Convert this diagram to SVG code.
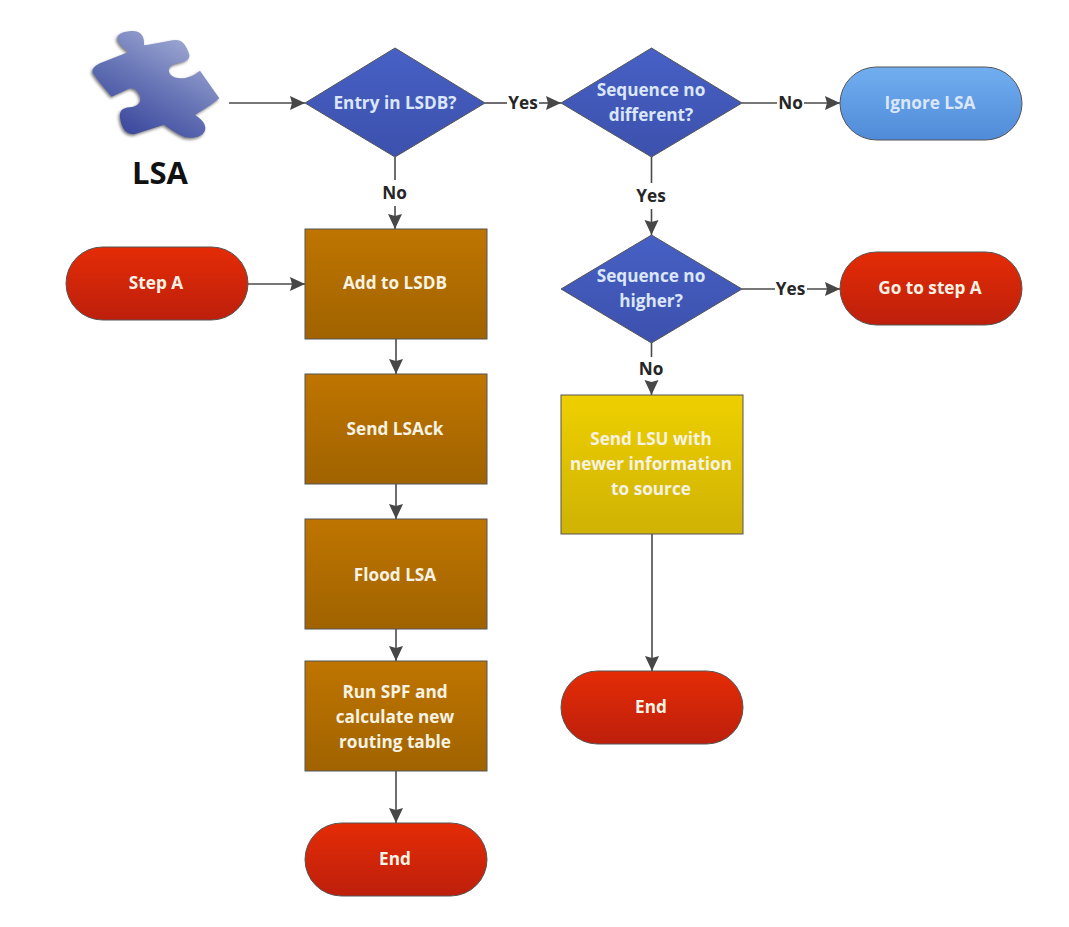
<svg xmlns="http://www.w3.org/2000/svg" width="1069" height="927" viewBox="0 0 1069 927">
<style>
text{font-family:"Open Sans","Noto Sans","Liberation Sans",sans-serif;font-weight:700;font-size:17.2px;text-anchor:middle}
.w{fill:#f6f2e4}.b{fill:#dbe6fa}.l{fill:#262626}
.s{stroke:#555;stroke-width:1}
.c{fill:none;stroke:#4a4a4a;stroke-width:1.600}
</style>
<defs>
<linearGradient id="red" x1="0" y1="0" x2="0" y2="1"><stop offset="0" stop-color="#e42c06"/><stop offset="1" stop-color="#bd1f0c"/></linearGradient>
<linearGradient id="brown" x1="0" y1="0" x2="0" y2="1"><stop offset="0" stop-color="#bf7500"/><stop offset="1" stop-color="#a06300"/></linearGradient>
<linearGradient id="yellow" x1="0" y1="0" x2="0" y2="1"><stop offset="0" stop-color="#eed000"/><stop offset="1" stop-color="#cfb204"/></linearGradient>
<linearGradient id="sky" x1="0" y1="0" x2="0" y2="1"><stop offset="0" stop-color="#71aef0"/><stop offset="1" stop-color="#4f8bd8"/></linearGradient>
<linearGradient id="blue" x1="0" y1="0" x2="0" y2="1"><stop offset="0" stop-color="#4660c4"/><stop offset="1" stop-color="#3d51ad"/></linearGradient>
<linearGradient id="puz" x1="0.85" y1="0.1" x2="0.3" y2="0.95"><stop offset="0" stop-color="#a2abd4"/><stop offset="0.5" stop-color="#6a78b8"/><stop offset="1" stop-color="#3d4a9e"/></linearGradient>
<filter id="sh" x="-10%" y="-10%" width="125%" height="125%"><feGaussianBlur stdDeviation="5"/></filter>
<marker id="a" markerUnits="userSpaceOnUse" markerWidth="16" markerHeight="16" refX="15" refY="8" orient="auto"><path d="M0 1L15 8L0 15L2 8Z" fill="#474747"/></marker>
<path id="pz" d="M146 66C132 44 160 33 188 33C214 33 224 50 222 76C255 72 290 62 318 60C338 60 350 78 358 104C360 120 345 124 322 130C298 136 290 150 302 164C318 180 358 180 390 152L448 235C420 258 395 272 375 285C398 298 412 318 404 334C396 352 368 356 345 352C320 342 300 326 282 314L195 342C172 346 155 330 150 292C148 272 158 264 178 262C202 260 216 248 210 230C204 212 192 204 180 205L125 230C105 205 85 185 68 158C66 146 75 138 90 130L176 96C162 86 152 78 146 66Z"/>
</defs>
<rect width="1069" height="927" fill="#fff"/>
<g id="connectors">
<path class="c" d="M229 103H305" marker-end="url(#a)"/>
<path class="c" d="M485 103H507"/><path class="c" d="M539 103H561" marker-end="url(#a)"/>
<path class="c" d="M742 103H777"/><path class="c" d="M804 103H840" marker-end="url(#a)"/>
<path class="c" d="M395 157V180"/><path class="c" d="M395 206V229" marker-end="url(#a)"/>
<path class="c" d="M651.500 157V183"/><path class="c" d="M651.500 209V235" marker-end="url(#a)"/>
<path class="c" d="M742 289H775"/><path class="c" d="M807 289H840" marker-end="url(#a)"/>
<path class="c" d="M651.500 343V357"/><path class="c" d="M651.500 382V395" marker-end="url(#a)"/>
<path class="c" d="M248 284H305" marker-end="url(#a)"/>
<path class="c" d="M396 339V374" marker-end="url(#a)"/>
<path class="c" d="M396 484V519" marker-end="url(#a)"/>
<path class="c" d="M396 629V661" marker-end="url(#a)"/>
<path class="c" d="M396 771V823" marker-end="url(#a)"/>
<path class="c" d="M652 534V671" marker-end="url(#a)"/>
</g>
<g id="labels">
<text class="l" x="523" y="109">Yes</text>
<text class="l" x="790.500" y="109">No</text>
<text class="l" x="394.500" y="199">No</text>
<text class="l" x="651" y="202">Yes</text>
<text class="l" x="790.500" y="295">Yes</text>
<text class="l" x="651" y="375">No</text>
</g>
<g id="lsa">
<g transform="translate(70 20) scale(.3333)">
<use href="#pz" fill="#222" opacity=".6" filter="url(#sh)" transform="translate(-4 5)"/>
<use href="#pz" fill="url(#puz)"/>
</g>
<text class="l" x="160" y="184" style="font-size:31px;fill:#111">LSA</text>
</g>
<g id="entry"><polygon class="s" points="305,103 395,48 485,103 395,157" fill="url(#blue)"/><text class="b" x="395" y="109">Entry in LSDB?</text></g>
<g id="seqdiff"><polygon class="s" points="561,103 651.500,48 742,103 651.500,157" fill="url(#blue)"/><text class="b" x="651" y="96">Sequence no</text><text class="b" x="651" y="121">different?</text></g>
<g id="ignore"><rect class="s" x="840" y="67" width="182" height="73" rx="36.500" fill="url(#sky)"/><text class="b" x="930" y="109">Ignore LSA</text></g>
<g id="seqhigh"><polygon class="s" points="561,289 651.500,235 742,289 651.500,343" fill="url(#blue)"/><text class="b" x="651" y="282">Sequence no</text><text class="b" x="651" y="307">higher?</text></g>
<g id="gotoa"><rect class="s" x="840" y="252" width="182" height="73" rx="36.500" fill="url(#red)"/><text class="w" x="930" y="294">Go to step A</text></g>
<g id="stepa"><rect class="s" x="66" y="247" width="182" height="73" rx="36.500" fill="url(#red)"/><text class="w" x="156" y="289">Step A</text></g>
<g id="add"><rect class="s" x="305" y="229" width="182" height="110" fill="url(#brown)"/><text class="w" x="395" y="289">Add to LSDB</text></g>
<g id="ack"><rect class="s" x="305" y="374" width="182" height="110" fill="url(#brown)"/><text class="w" x="395" y="435">Send LSAck</text></g>
<g id="flood"><rect class="s" x="305" y="519" width="182" height="110" fill="url(#brown)"/><text class="w" x="395" y="581">Flood LSA</text></g>
<g id="spf"><rect class="s" x="305" y="661" width="182" height="110" fill="url(#brown)"/><text class="w" x="395" y="698">Run SPF and</text><text class="w" x="395" y="723">calculate new</text><text class="w" x="395" y="748">routing table</text></g>
<g id="end1"><rect class="s" x="305" y="823" width="182" height="73" rx="36.500" fill="url(#red)"/><text class="w" x="395" y="865">End</text></g>
<g id="lsu"><rect class="s" x="561" y="395" width="182" height="139" fill="url(#yellow)"/><text class="w" x="651" y="445">Send LSU with</text><text class="w" x="651" y="470">newer information</text><text class="w" x="651" y="495">to source</text></g>
<g id="end2"><rect class="s" x="561" y="671" width="182" height="73" rx="36.500" fill="url(#red)"/><text class="w" x="651" y="713">End</text></g>
</svg>
